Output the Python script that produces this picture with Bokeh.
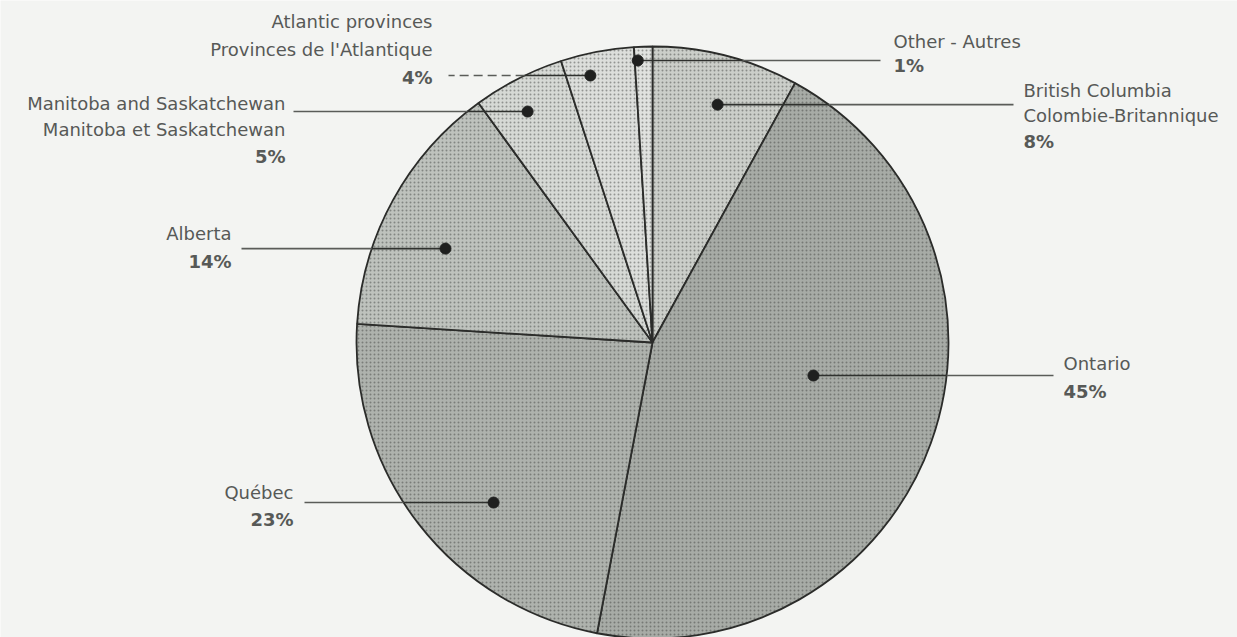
import math
import numpy as np
from bokeh.plotting import figure
from bokeh.models import Range1d
from bokeh.core.properties import value
from bokeh.embed import file_html
from bokeh.resources import INLINE

# ---- data: share of total by region, clockwise from 12 o'clock ----
regions = ["British Columbia", "Ontario", "Quebec", "Alberta",
           "Manitoba and Saskatchewan", "Atlantic provinces", "Other"]
shares = [8, 45, 23, 14, 5, 4, 1]
name_lines = [
    ["British Columbia", "Colombie-Britannique"],
    ["Ontario"],
    ["Québec"],
    ["Alberta"],
    ["Manitoba and Saskatchewan", "Manitoba et Saskatchewan"],
    ["Atlantic provinces", "Provinces de l'Atlantique"],
    ["Other - Autres"],
]
pct_labels = [f"{s}%" for s in shares]

# ---- styling / layout (pixel space, y measured from the top) ----
W, H = 1237, 637
CX, CY, R = 652, 342, 296
slice_fill = ["#cbcec9", "#a7aba6", "#aeb2ad", "#bec2bd", "#d6d9d5", "#dcdedb", "#e0e2df"]
# leader dot: angular offset from the slice middle (deg) and radius fraction
dot_offset = [0.9, -8.2, -7.4, -4.4, -1.4, -2.3, -1.2]
dot_rfrac = [0.833, 0.555, 0.762, 0.768, 0.887, 0.926, 0.954]
leader_end = [1013, 1053, 304, 241, 293, 448, 880]
text_x = [1023, 1063, 293, 231, 285, 432, 893]
text_align = ["left", "left", "right", "right", "right", "right", "left"]
text_top = [89.5, 363, 492, 233, 102.5, 21, 40.5]
line_gap = [25.5, 28, 27, 28, 26.5, 28, 24]
dashed_outside = [False, False, False, False, False, True, False]

FONT = "DejaVu Sans"
FS = "18px"
TXT = "#575957"

def fy(py):
    return H - py

p = figure(width=W, height=H, x_range=Range1d(0, W), y_range=Range1d(0, H),
           toolbar_location=None, output_backend="svg", min_border=0)
p.axis.visible = False
p.grid.visible = False
p.outline_line_color = None
p.background_fill_color = "#f3f4f2"
p.border_fill_color = "#f3f4f2"

# slice angles, clockwise from the top
ends = np.cumsum(shares) / sum(shares) * 360.0
starts = np.concatenate([[0.0], ends[:-1]])
mids = (starts + ends) / 2

start_rad = [math.radians(90 - e) for e in ends]
end_rad = [math.radians(90 - s) for s in starts]

p.wedge(x=[CX] * len(shares), y=[fy(CY)] * len(shares), radius=R,
        start_angle=start_rad, end_angle=end_rad,
        fill_color=slice_fill, line_color="#2b2c2a", line_width=1.8,
        hatch_pattern="dot", hatch_scale=4, hatch_color="#3a3c39",
        hatch_alpha=0.45, hatch_weight=1)

# leader lines, dots and labels
for i in range(len(shares)):
    a = math.radians(mids[i] + dot_offset[i])
    r = R * dot_rfrac[i]
    dx = CX + r * math.sin(a)
    dy = CY - r * math.cos(a)
    ex = leader_end[i]
    # point where the leader crosses the rim
    half = math.sqrt(max(R * R - (dy - CY) ** 2, 0))
    rim_x = CX + half if ex > dx else CX - half
    p.line([dx, rim_x], [fy(dy), fy(dy)], line_color="#2f312e", line_width=1.6)
    p.line([rim_x, ex], [fy(dy), fy(dy)], line_color="#5a5c59", line_width=1.6,
           line_dash="9 5" if dashed_outside[i] else "solid")
    p.scatter([dx], [fy(dy)], size=11, fill_color="#1f201f", line_color="#1f201f")

    lines = name_lines[i] + [pct_labels[i]]
    for k, t in enumerate(lines):
        is_pct = k == len(lines) - 1
        p.text(x=[text_x[i]], y=[fy(text_top[i] + k * line_gap[i])], text=[t],
               text_font=value(FONT), text_font_size=FS,
               text_font_style="bold" if is_pct else "normal",
               text_color=TXT, text_align=text_align[i], text_baseline="middle")

open("out.html", "w").write(file_html(p, INLINE))
